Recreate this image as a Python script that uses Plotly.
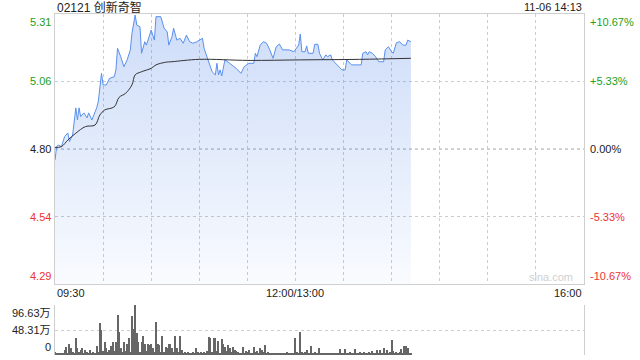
import plotly.graph_objects as go

# ---------------- data ----------------
prev_close = 4.80
stock_title = "02121 创新奇智"
stamp = "11-06 14:13"

# minutes since 09:30 (trading minutes, lunch break removed) and price
price_min = [0, 1, 2, 4, 6, 8, 9, 11, 13, 14, 15, 16, 18, 20, 21, 23, 25, 26, 27, 29,
             30, 32, 34, 37, 38, 39, 41, 43, 45, 47, 48, 50, 51, 53, 54, 56, 57, 59, 60, 62,
             63, 66, 68, 70, 71, 73, 74, 76, 78, 80, 82, 84, 86, 88, 90, 92, 93, 96, 98, 100,
             101, 102, 103, 104, 106, 109, 113, 116, 118, 121, 124, 125, 126, 128, 130, 132, 134, 136, 138, 140,
             142, 146, 149, 152, 153, 154, 156, 157, 158, 161, 162, 164, 165, 167, 169, 170, 172, 173, 175, 178,
             179, 181, 182, 185, 191, 192, 194, 195, 196, 198, 200, 202, 205, 206, 208, 210, 211, 213, 215, 217,
             219, 220, 222]
price = [4.758, 4.808, 4.815, 4.809, 4.847, 4.861, 4.828, 4.853, 4.956, 4.910, 4.956, 4.923, 4.937, 4.918, 4.937, 4.910, 4.941, 4.956, 4.979, 5.087,
         5.043, 5.043, 5.068, 5.074, 5.100, 5.182, 5.150, 5.112, 5.138, 5.176, 5.239, 5.308, 5.270, 5.264, 5.163, 5.207, 5.194, 5.239, 5.251, 5.213,
         5.302, 5.302, 5.259, 5.244, 5.194, 5.226, 5.258, 5.213, 5.220, 5.201, 5.232, 5.207, 5.201, 5.205, 5.213, 5.220, 5.182, 5.131, 5.093, 5.081,
         5.125, 5.081, 5.100, 5.077, 5.138, 5.125, 5.106, 5.087, 5.112, 5.125, 5.125, 5.163, 5.150, 5.194, 5.207, 5.201, 5.176, 5.144, 5.188, 5.198,
         5.176, 5.176, 5.169, 5.194, 5.236, 5.169, 5.169, 5.191, 5.163, 5.163, 5.197, 5.197, 5.163, 5.138, 5.157, 5.150, 5.157, 5.138, 5.125, 5.106,
         5.100, 5.100, 5.138, 5.119, 5.119, 5.163, 5.169, 5.157, 5.169, 5.163, 5.150, 5.131, 5.131, 5.176, 5.188, 5.169, 5.163, 5.203, 5.207, 5.194,
         5.194, 5.213, 5.207]

avg_min = [0, 4, 8, 13, 19, 25, 28, 31, 37, 40, 44, 48, 50, 54, 60, 63, 69, 73, 90, 121, 153, 190, 222]
avg_price = [4.806, 4.809, 4.834, 4.860, 4.885, 4.891, 4.929, 4.948, 4.960, 4.996, 5.011, 5.043, 5.081, 5.093, 5.106, 5.119, 5.129, 5.131, 5.140, 5.136, 5.138, 5.140, 5.144]

# volume per minute (万股), minutes 0..222
volume = [5, 2, 2, 3, 2, 3, 10, 16, 4, 22,
          13, 5, 3, 33, 13, 6, 10, 14, 4, 10,
          6, 3, 10, 4, 6, 3, 18, 5, 61, 48,
          8, 26, 13, 5, 10, 18, 26, 7, 26, 77,
          45, 13, 6, 26, 8, 22, 32, 5, 76, 51,
          96.6, 42, 26, 5, 26, 37, 22, 8, 22, 19,
          21, 13, 6, 64, 21, 19, 5, 37, 6, 16,
          13, 22, 22, 13, 5, 37, 13, 6, 37, 10,
          4, 5, 3, 5, 4, 3, 5, 4, 13, 5,
          3, 5, 4, 6, 3, 8, 35, 32, 6, 32,
          33, 8, 27, 4, 31, 21, 16, 8, 19, 13,
          5, 16, 10, 8, 5, 3, 4, 16, 3, 8,
          5, 10, 4, 3, 16, 5, 8, 4, 13, 10,
          6, 19, 3, 5, 3, 4, 2, 4, 3, 3,
          4, 2, 3, 4, 3, 6, 3, 2, 4, 3,
          32, 6, 3, 45, 5, 3, 6, 10, 3, 4,
          18, 3, 6, 4, 3, 14, 3, 4, 2, 3,
          3, 4, 2, 3, 4, 3, 2, 4, 12, 3,
          4, 12, 3, 2, 5, 3, 4, 12, 3, 2,
          5, 3, 4, 6, 3, 4, 5, 3, 8, 4,
          3, 10, 4, 10, 3, 13, 4, 10, 3, 6,
          29, 8, 3, 6, 4, 6, 12, 3, 17, 17,
          14, 4, 3]
vol_min = list(range(len(volume)))

price_ticks = [4.288, 4.544, 4.80, 5.056, 5.312]
price_labels = ["4.29", "4.54", "4.80", "5.06", "5.31"]
pct_labels = ["-10.67%", "-5.33%", "0.00%", "+5.33%", "+10.67%"]
vol_ticks = [0, 48.31, 96.63]
vol_labels = ["0", "48.31万", "96.63万"]
time_ticks = [0, 150, 330]
time_labels = ["09:30", "12:00/13:00", "16:00"]
grid_minutes = list(range(0, 331, 30))

# ---------------- style ----------------
FONT = "Liberation Sans, Arial, Noto Sans CJK SC, sans-serif"
GREEN = "#22a022"
RED = "#ee3333"
BLACK = "#222222"
GRID = "#cccccc"
FRAME = "#cfcfcf"
XD = [55 / 640, 584 / 640]
YD_MAIN = [1 - 284 / 360, 1 - 14 / 360]
YD_VOL = [1 - 355 / 360, 1 - 305 / 360]

fig = go.Figure()

fig.add_trace(go.Scatter(
    x=price_min, y=price, mode="lines", line=dict(color="#5a90ee", width=1),
    fill="tozeroy",
    fillgradient=dict(type="vertical", start=price_ticks[0], stop=price_ticks[-1],
                      colorscale=[[0, "rgba(60,120,230,0.03)"], [1, "rgba(60,120,230,0.26)"]]),
    xaxis="x", yaxis="y", hoverinfo="skip", showlegend=False))

fig.add_trace(go.Scatter(
    x=avg_min, y=avg_price, mode="lines", line=dict(color="#333333", width=1, shape="spline"),
    xaxis="x", yaxis="y", hoverinfo="skip", showlegend=False))

fig.add_trace(go.Bar(
    x=vol_min, y=volume, width=0.65, marker=dict(color="#666666", line=dict(width=0)),
    xaxis="x2", yaxis="y2", hoverinfo="skip", showlegend=False))

fig.update_layout(
    width=640, height=360, margin=dict(l=0, r=0, t=0, b=0),
    paper_bgcolor="white", plot_bgcolor="white",
    font=dict(family=FONT, size=11, color=BLACK),
    bargap=0,
    xaxis=dict(domain=XD, range=[0, 330], tickvals=grid_minutes, showticklabels=False,
               showgrid=True, gridcolor=GRID, griddash="dot", gridwidth=1,
               showline=True, linecolor=FRAME, mirror=True, zeroline=False, ticks="",
               anchor="y"),
    yaxis=dict(domain=YD_MAIN, range=[price_ticks[0], price_ticks[-1]], tickvals=price_ticks,
               showticklabels=False, showgrid=True, gridcolor=GRID, griddash="dot",
               showline=True, linecolor=FRAME, mirror=True, zeroline=False, ticks="",
               anchor="x"),
    xaxis2=dict(domain=XD, range=[0, 330], showticklabels=False, showgrid=False,
                showline=False, zeroline=False, ticks="", anchor="y2"),
    yaxis2=dict(domain=YD_VOL, range=[0, vol_ticks[-1]], tickvals=vol_ticks,
                showticklabels=False, showgrid=True, gridcolor=GRID, griddash="dot",
                showline=True, linecolor=FRAME, mirror=True, zeroline=False, ticks="",
                anchor="x2"),
    shapes=[dict(type="line", xref="x domain", yref="y", x0=0, x1=1, y0=prev_close, y1=prev_close,
                 line=dict(color="#aaaaaa", width=1, dash="dot"), layer="below")],
)

ann = []
# title / stamp
ann.append(dict(text=stock_title, xref="paper", yref="paper", x=XD[0], y=1 - 7 / 360,
                xanchor="left", yanchor="middle", showarrow=False, font=dict(size=12, color=BLACK)))
ann.append(dict(text=stamp, xref="paper", yref="paper", x=XD[1], y=1 - 7 / 360,
                xanchor="right", yanchor="middle", showarrow=False, font=dict(size=11, color=BLACK)))

# price & percent labels
for i, (v, pl, cl) in enumerate(zip(price_ticks, price_labels, pct_labels)):
    col = RED if v < prev_close - 1e-9 else (GREEN if v > prev_close + 1e-9 else BLACK)
    ya = "bottom" if i == 0 else ("top" if i == len(price_ticks) - 1 else "middle")
    ann.append(dict(text=pl, xref="paper", yref="y", x=XD[0], y=v, xanchor="right", yanchor=ya,
                    xshift=-2, showarrow=False, font=dict(size=11, color=col)))
    ann.append(dict(text=cl, xref="paper", yref="y", x=XD[1], y=v, xanchor="left", yanchor=ya,
                    xshift=4, showarrow=False, font=dict(size=11, color=col)))

# volume labels
for i, (v, lab) in enumerate(zip(vol_ticks, vol_labels)):
    ya = "bottom" if i == 0 else ("top" if i == len(vol_ticks) - 1 else "middle")
    ann.append(dict(text=lab, xref="paper", yref="y2", x=XD[0], y=v, xanchor="right", yanchor=ya,
                    xshift=-2, showarrow=False, font=dict(size=11, color=BLACK)))

# time labels
for v, lab, xa in zip(time_ticks, time_labels, ["left", "center", "right"]):
    ann.append(dict(text=lab, xref="x", yref="paper", x=v, y=1 - 293 / 360, xanchor=xa,
                    yanchor="middle", showarrow=False, font=dict(size=11, color=BLACK)))

# watermark
ann.append(dict(text="sina.com", xref="paper", yref="paper", x=575 / 640, y=1 - 277 / 360,
                xanchor="right", yanchor="middle", showarrow=False, font=dict(size=11, color="#d0d0d0")))

fig.update_layout(annotations=ann)
fig.write_html("out.html")
